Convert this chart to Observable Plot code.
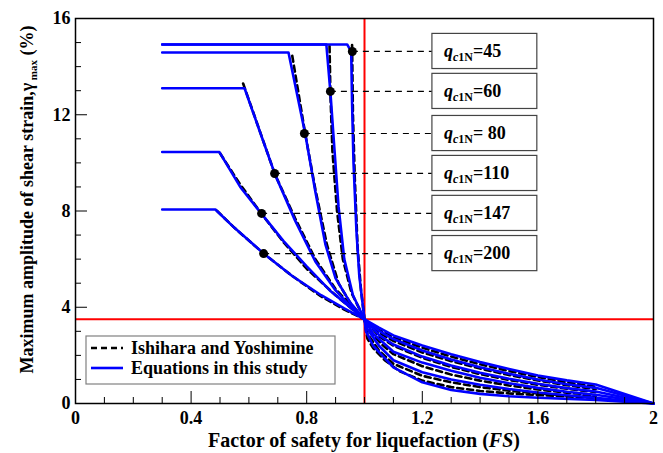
<!DOCTYPE html>
<html><head><meta charset="utf-8">
<script src="https://cdn.jsdelivr.net/npm/d3@7"></script>
<script src="https://cdn.jsdelivr.net/npm/@observablehq/plot@0.6"></script>
<style>
body{margin:0;background:#fff;}
svg{font-family:"Liberation Serif","Times New Roman",serif;}
</style>
</head><body><div id="chart"></div>
<script>
// ---- data ----
const qNames = ["45", "60", "80", "110", "147", "200"];
const qTexts = ["=45", "=60", "= 80", "=110", "=147", "=200"];

// Equations in this study (FS, gamma_max %)
const eq45 = [[0.3,14.92],[0.94,14.92],[0.954,14.62],[0.957,12.5],[0.962,10.0],[0.972,7.2],[0.982,5.3],[1.0,3.5],[1.05,3.15],[1.1,2.83],[1.2,2.41],[1.3,2.05],[1.4,1.72],[1.5,1.43],[1.6,1.16],[1.7,0.96],[1.8,0.79],[2.0,0]];
const eq60 = [[0.3,14.92],[0.868,14.92],[0.882,12.94],[0.894,10.9],[0.91,8.2],[0.93,6.0],[0.96,4.5],[1.0,3.5],[1.05,3.02],[1.1,2.68],[1.2,2.2],[1.3,1.83],[1.4,1.51],[1.5,1.24],[1.6,1.0],[1.7,0.8],[1.8,0.65],[2.0,0]];
const eq80 = [[0.3,14.59],[0.737,14.59],[0.795,11.2],[0.83,8.8],[0.865,6.6],[0.9,5.2],[0.95,4.2],[1.0,3.5],[1.05,2.85],[1.1,2.45],[1.2,1.95],[1.3,1.58],[1.4,1.28],[1.5,1.03],[1.6,0.82],[1.7,0.64],[1.8,0.5],[2.0,0]];
const eq110 = [[0.3,13.1],[0.585,13.1],[0.69,9.53],[0.76,7.6],[0.83,5.9],[0.9,4.7],[0.95,4.05],[1.0,3.5],[1.03,2.9],[1.1,2.15],[1.2,1.7],[1.3,1.36],[1.4,1.07],[1.5,0.84],[1.6,0.65],[1.7,0.49],[1.8,0.36],[2.0,0]];
const eq147 = [[0.3,10.45],[0.498,10.45],[0.57,9.0],[0.644,7.88],[0.72,6.75],[0.8,5.7],[0.88,4.7],[0.95,4.0],[1.0,3.5],[1.01,3.1],[1.05,2.4],[1.1,1.8],[1.2,1.3],[1.3,1.0],[1.4,0.78],[1.5,0.6],[1.6,0.46],[1.7,0.34],[1.8,0.24],[2.0,0]];
const eq200 = [[0.3,8.06],[0.484,8.06],[0.55,7.3],[0.651,6.23],[0.75,5.3],[0.85,4.5],[0.93,3.95],[1.0,3.5],[1.005,3.0],[1.03,2.4],[1.1,1.5],[1.2,0.88],[1.3,0.56],[1.4,0.4],[1.5,0.3],[1.6,0.24],[1.8,0.15],[2.0,0]];

// Ishihara and Yoshimine (FS, gamma_max %)
const iy45 = [[0.957,14.9],[0.96,12.0],[0.966,9.5],[0.976,6.5],[0.988,4.7],[1.0,3.5],[1.05,3.05],[1.1,2.75],[1.2,2.32],[1.3,1.95],[1.4,1.63],[1.5,1.35],[1.6,1.1],[1.7,0.88],[1.8,0.7]];
const iy60 = [[0.879,14.85],[0.882,12.9],[0.889,10.5],[0.905,8.0],[0.925,6.0],[0.955,4.6],[1.0,3.5],[1.05,2.95],[1.1,2.6],[1.2,2.12],[1.3,1.76],[1.4,1.45],[1.5,1.18],[1.6,0.96],[1.7,0.76],[1.8,0.6]];
const iy80 = [[0.75,14.45],[0.795,11.2],[0.83,8.9],[0.87,6.6],[0.91,5.0],[0.955,4.1],[1.0,3.5],[1.05,2.8],[1.1,2.4],[1.2,1.9],[1.3,1.52],[1.4,1.22],[1.5,0.98],[1.6,0.78],[1.7,0.61],[1.8,0.48]];
const iy110 = [[0.58,13.3],[0.69,9.53],[0.76,7.7],[0.83,6.0],[0.9,4.75],[1.0,3.5],[1.02,3.0],[1.06,2.45],[1.1,2.05],[1.2,1.55],[1.3,1.2],[1.4,0.95],[1.5,0.75],[1.6,0.58],[1.7,0.45],[1.8,0.35]];
const iy147 = [[0.5,10.4],[0.57,9.1],[0.644,7.88],[0.72,6.7],[0.8,5.6],[0.9,4.5],[1.0,3.5],[1.01,2.9],[1.05,2.2],[1.1,1.65],[1.2,1.15],[1.3,0.88],[1.4,0.68],[1.5,0.53],[1.6,0.42],[1.7,0.33],[1.8,0.27]];
const iy200 = [[0.49,8.0],[0.55,7.3],[0.651,6.23],[0.75,5.3],[0.85,4.45],[0.93,3.9],[1.0,3.5],[1.01,2.7],[1.03,2.3],[1.07,1.8],[1.12,1.35],[1.2,0.95],[1.3,0.68],[1.4,0.52],[1.5,0.42],[1.6,0.35],[1.7,0.29],[1.8,0.24]];

// marked points with the leader lines to the labels
const dotFS = [0.958, 0.882, 0.792, 0.689, 0.644, 0.651];
const dotGamma = [14.63, 12.97, 11.22, 9.56, 7.90, 6.23];

// reference lines
const fsRef = [1];
const gammaRef = [3.5];

// ticks
const xMajor = [0, 0.4, 0.8, 1.2, 1.6, 2];
const xMinor = [0.1, 0.2, 0.3, 0.5, 0.6, 0.7, 0.9, 1.0, 1.1, 1.3, 1.4, 1.5, 1.7, 1.8, 1.9];
const yMajor = [0, 4, 8, 12, 16];
const yMinor = [1, 2, 3, 5, 6, 7, 9, 10, 11, 13, 14, 15];

// ---- build tables ----
const toRows = (sets) => sets.flatMap((pts, i) => pts.map(([fs, g]) => ({q: qNames[i], fs, g})));
const eqRows = toRows([eq45, eq60, eq80, eq110, eq147, eq200]);
const iyRows = toRows([iy45, iy60, iy80, iy110, iy147, iy200]);
const dots = dotFS.map((fs, i) => ({fs, g: dotGamma[i], q: qNames[i], t: qTexts[i]}));

const BOX_X1 = 1.235, BOX_X2 = 1.598, BOX_H = 0.73;

const plot = Plot.plot({
  width: 663, height: 453,
  marginLeft: 75, marginRight: 10, marginTop: 18, marginBottom: 50,
  x: {domain: [0, 2]},
  y: {domain: [0, 16]},
  style: {fontFamily: "'Liberation Serif', 'Times New Roman', serif", fontSize: "18px", fontWeight: "bold", background: "white", color: "black"},
  marks: [
    Plot.ruleX(fsRef, {stroke: "#ff0000", strokeWidth: 2}),
    Plot.ruleY(gammaRef, {stroke: "#ff0000", strokeWidth: 2}),
    Plot.line(iyRows, {x: "fs", y: "g", z: "q", stroke: "black", strokeWidth: 2.6, strokeDasharray: "6,4"}),
    Plot.line(eqRows, {x: "fs", y: "g", z: "q", stroke: "#0000ff", strokeWidth: 2.6}),
    Plot.ruleY(dots, {y: "g", x1: "fs", x2: BOX_X1, stroke: "black", strokeWidth: 1.2, strokeDasharray: "6,5"}),
    Plot.dot(dots, {x: "fs", y: "g", r: 4.5, fill: "black"}),
    Plot.rect(dots, {x1: BOX_X1, x2: BOX_X2, y1: d => d.g - BOX_H, y2: d => d.g + BOX_H, fill: "white", stroke: "#444", strokeWidth: 1.2}),
    Plot.frame({stroke: "black", strokeWidth: 1.5}),
    Plot.axisX(xMinor, {tickSize: -6, fill: "none", label: null}),
    Plot.axisX(xMajor, {tickSize: -12, fill: "none", label: null}),
    Plot.axisX(xMajor, {tickSize: 0, tickPadding: 8, label: null, tickFormat: d => String(d), fontSize: 18, fontWeight: "bold"}),
    Plot.axisY(yMinor, {tickSize: -6, fill: "none", label: null}),
    Plot.axisY(yMajor, {tickSize: -12, fill: "none", label: null}),
    Plot.axisY(yMajor, {tickSize: 0, tickPadding: 5, label: null, tickFormat: d => String(d), fontSize: 18, fontWeight: "bold"})
  ]
});

document.getElementById("chart").appendChild(plot);

const svg = d3.select(plot);
const sx = plot.scale("x"), sy = plot.scale("y");

// labels in boxes
dots.forEach(d => {
  const t = svg.append("text")
    .attr("x", sx.apply(BOX_X1) + 12)
    .attr("y", sy.apply(d.g) + 6)
    .attr("text-anchor", "start")
    .attr("font-size", 18).attr("font-weight", "bold").attr("fill", "black");
  t.append("tspan").attr("font-style", "italic").text("q");
  t.append("tspan").attr("font-style", "italic").attr("font-size", 12).attr("dy", 4).text("c");
  t.append("tspan").attr("font-size", 12).text("1N");
  t.append("tspan").attr("dy", -4).text(d.t);
});

// legend
const lx = sx.apply(0) + 11, ly = sy.apply(0) - 67;
svg.append("rect").attr("x", lx).attr("y", ly).attr("width", 249).attr("height", 48)
  .attr("fill", "white").attr("stroke", "#808080").attr("stroke-width", 1.2);
svg.append("line").attr("x1", lx + 5).attr("x2", lx + 37).attr("y1", ly + 12).attr("y2", ly + 12)
  .attr("stroke", "black").attr("stroke-width", 2.6).attr("stroke-dasharray", "6,4");
svg.append("line").attr("x1", lx + 5).attr("x2", lx + 37).attr("y1", ly + 32).attr("y2", ly + 32)
  .attr("stroke", "#0000ff").attr("stroke-width", 2.6);
svg.append("text").attr("x", lx + 45).attr("y", ly + 18).attr("text-anchor", "start")
  .attr("font-size", 18).attr("font-weight", "bold").text("Ishihara and Yoshimine");
svg.append("text").attr("x", lx + 45).attr("y", ly + 38).attr("text-anchor", "start")
  .attr("font-size", 18).attr("font-weight", "bold").text("Equations in this study");

// axis titles
const xt = svg.append("text").attr("x", (sx.apply(0) + sx.apply(2)) / 2).attr("y", 447)
  .attr("text-anchor", "middle").attr("font-size", 20).attr("font-weight", "bold");
xt.append("tspan").text("Factor of safety for liquefaction (");
xt.append("tspan").attr("font-style", "italic").text("FS");
xt.append("tspan").text(")");

const yt = svg.append("text").attr("transform", `translate(33, ${(sy.apply(0) + sy.apply(16)) / 2 - 11}) rotate(-90)`)
  .attr("text-anchor", "middle").attr("font-size", 18).attr("font-weight", "bold");
yt.append("tspan").text("Maximum amplitude of shear strain,γ");
yt.append("tspan").attr("font-size", 11).attr("dy", 4).text(" max");
yt.append("tspan").attr("dy", -4).text(" (%)");
</script>
</body></html>
